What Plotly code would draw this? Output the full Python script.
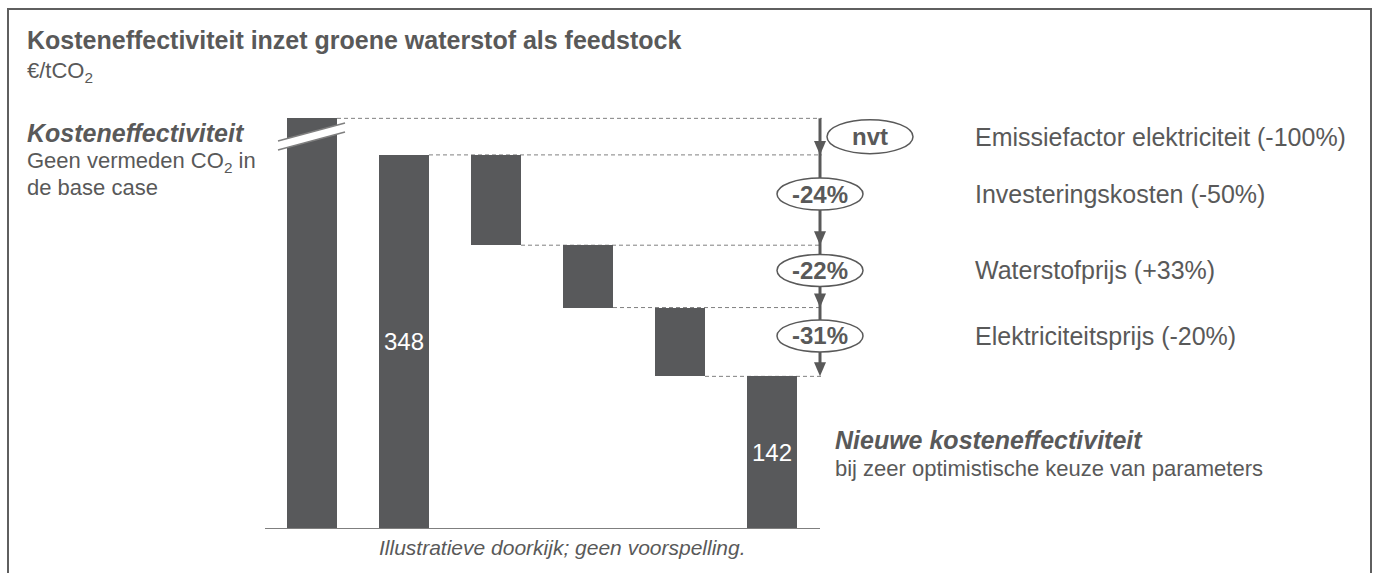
import plotly.graph_objects as go

# ---------------- data ----------------
categories = ["Base case", "Emissiefactor", "Investeringskosten", "Waterstofprijs",
              "Elektriciteitsprijs", "Nieuw"]
start_value = 382          # broken (off-scale) bar, displayed height
base_value = 348
step_changes = [-84, -58, -64]
end_value = 142
step_labels = ["nvt", "-24%", "-22%", "-31%"]
driver_labels = ["Emissiefactor elektriciteit (-100%)", "Investeringskosten (-50%)",
                 "Waterstofprijs (+33%)", "Elektriciteitsprijs (-20%)"]
bar_text = ["", "348", "", "", "", "142"]

# ---------------- layout helpers ----------------
W, H = 1376, 573
GRAY = "#595959"
BAR = "#58595b"
FONT = "Liberation Sans, Arial, sans-serif"
X0PX, XSTEP = 312, 92          # pixel of x=0, pixels per category
YBASE, YSCALE = 529, 1.075     # pixel of y=0, pixels per unit
BW = 50 / XSTEP


def px(x):
    return x / W


def py(y):
    return 1 - y / H


x_lo, x_hi = (265 - X0PX) / XSTEP, (1000 - X0PX) / XSTEP
y_top = (YBASE - 100) / YSCALE
ARROW_X = (820 - X0PX) / XSTEP

# levels & bars
levels = [start_value, base_value]
for c in step_changes:
    levels.append(levels[-1] + c)
heights = [start_value, base_value] + [abs(c) for c in step_changes] + [end_value]
bases = [0, 0] + [levels[i + 2] for i in range(len(step_changes))] + [0]
xpos = list(range(len(categories)))

fig = go.Figure()
fig.add_trace(go.Bar(
    x=xpos, y=heights, base=bases, width=BW,
    marker=dict(color=BAR, line=dict(width=0)),
    hoverinfo="skip", showlegend=False,
))

shapes = []
annotations = []

# value labels inside bars
for i, t in enumerate(bar_text):
    if t:
        annotations.append(dict(x=xpos[i], y=bases[i] + heights[i] / 2, xref="x", yref="y",
                                text=t, showarrow=False,
                                font=dict(size=24, color="white", family=FONT)))

# dashed connectors
for i, lvl in enumerate(levels):
    shapes.append(dict(type="line", xref="x", yref="y", layer="below",
                       x0=i + BW / 2, x1=ARROW_X + 0.02, y0=lvl, y1=lvl,
                       line=dict(color="#808080", width=1, dash="4px,3px")))

# baseline
shapes.append(dict(type="line", xref="x", yref="y", x0=x_lo, x1=ARROW_X, y0=0, y1=0,
                   line=dict(color="#7f7f7f", width=2)))

# arrow shaft
shapes.append(dict(type="line", xref="x", yref="y", x0=ARROW_X, x1=ARROW_X,
                   y0=levels[0], y1=levels[-1] + 8, line=dict(color=GRAY, width=3)))

# arrowheads (triangles, pixel-sized, anchored at each level)
for lvl in levels[1:]:
    shapes.append(dict(type="path", xref="x", yref="y", xsizemode="pixel", ysizemode="pixel",
                       xanchor=ARROW_X, yanchor=lvl, path="M-6,14 L6,14 L0,0 Z",
                       fillcolor=GRAY, line=dict(width=0)))

# ellipses with labels
for i, lab in enumerate(step_labels):
    mid = (levels[i] + levels[i + 1]) / 2
    if i == 0:
        xa, ya, w, h = 50, 0, 86, 34
    else:
        xa, ya, w, h = 0, 6, 86, 32
    shapes.append(dict(type="circle", xref="x", yref="y", xsizemode="pixel", ysizemode="pixel",
                       xanchor=ARROW_X, yanchor=mid,
                       x0=xa - w / 2, x1=xa + w / 2, y0=ya - h / 2, y1=ya + h / 2,
                       fillcolor="white", line=dict(color=GRAY, width=1.5)))
    annotations.append(dict(x=ARROW_X, y=mid, xref="x", yref="y", xshift=xa, yshift=ya,
                            text=f"<b>{lab}</b>", showarrow=False,
                            font=dict(size=24, color=GRAY, family=FONT)))
    annotations.append(dict(x=px(973), y=mid, xref="paper", yref="y", yshift=ya,
                            text=driver_labels[i], showarrow=False, xanchor="left",
                            font=dict(size=25, color=GRAY, family=FONT)))

# break mark on first bar
bx0, bx1 = px(278), px(345)
shapes.append(dict(type="path", xref="paper", yref="paper", line=dict(width=0),
                   fillcolor="white",
                   path=f"M{bx0},{py(141)} L{bx1},{py(123)} L{bx1},{py(132)} L{bx0},{py(150)} Z"))
for (ya, yb) in [(141, 123), (150, 132)]:
    shapes.append(dict(type="line", xref="paper", yref="paper", x0=bx0, x1=bx1,
                       y0=py(ya), y1=py(yb), line=dict(color="#7f7f7f", width=1.5)))

# frame
shapes.append(dict(type="rect", xref="paper", yref="paper", x0=px(8), x1=px(1371),
                   y0=-0.2, y1=py(9), line=dict(color="#5f5f5f", width=2)))


# texts
def txt(x, y, s, size, anchor="left"):
    annotations.append(dict(x=px(x), y=py(y), xref="paper", yref="paper", text=s,
                            showarrow=False, xanchor=anchor, yanchor="middle",
                            font=dict(size=size, color=GRAY, family=FONT)))


txt(25, 40, "<b>Kosteneffectiviteit inzet groene waterstof als feedstock</b>", 25)
txt(25, 72, "€/tCO<sub>2</sub>", 22)
txt(25, 133, "<b><i>Kosteneffectiviteit</i></b>", 25)
txt(25, 162, "Geen vermeden CO<sub>2</sub> in", 22)
txt(25, 187, "de base case", 22)
txt(833, 440, "<b><i>Nieuwe kosteneffectiviteit</i></b>", 25)
txt(833, 468, "bij zeer optimistische keuze van parameters", 22)
txt(562, 547, "<i>Illustratieve doorkijk; geen voorspelling.</i>", 21, anchor="center")

fig.update_layout(
    width=W, height=H, margin=dict(l=0, r=0, t=0, b=0),
    paper_bgcolor="white", plot_bgcolor="rgba(0,0,0,0)",
    xaxis=dict(domain=[px(265), px(1000)], range=[x_lo, x_hi], visible=False, fixedrange=True),
    yaxis=dict(domain=[py(YBASE), py(100)], range=[0, y_top], visible=False, fixedrange=True),
    shapes=shapes, annotations=annotations, bargap=0, showlegend=False,
    font=dict(family=FONT, color=GRAY),
)

fig.write_html("out.html", config={"displayModeBar": False},
               post_script="document.body.style.margin='0px';")
